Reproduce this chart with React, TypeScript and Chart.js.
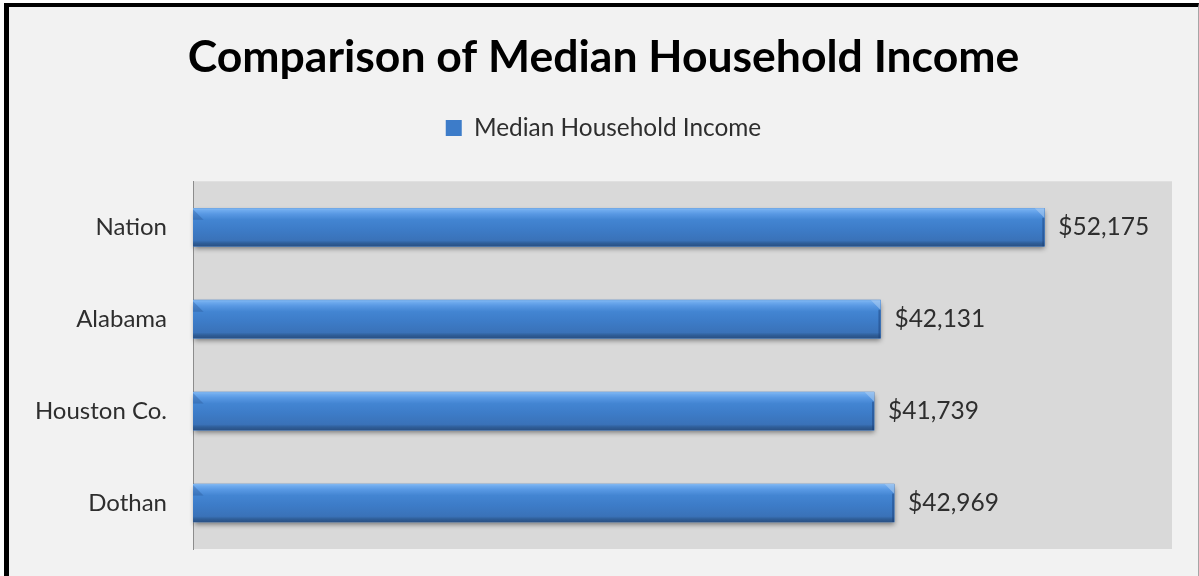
import React, { useEffect, useRef } from 'react';
import { Chart, registerables } from 'chart.js';

Chart.register(...registerables);

const categories = ['Nation', 'Alabama', 'Houston Co.', 'Dothan'];
const incomeValues = [52175, 42131, 41739, 42969];
const seriesName = 'Median Household Income';
const chartTitle = 'Comparison of Median Household Income';
const axisMin = 0;
const axisMax = 60000;

const FONT = 'Lato, "Open Sans", sans-serif';
const TEXT = '#2e2e2e';

function barRect(bar: any) {
  const p = bar.getProps(['x', 'y', 'base', 'height'], true);
  const left = Math.min(p.base, p.x);
  const right = Math.max(p.base, p.x);
  const top = p.y - p.height / 2;
  return { left, right, top, bottom: top + p.height, h: p.height, cy: p.y };
}

const plotBg = {
  id: 'plotBg',
  beforeDraw(chart: any) {
    const { ctx, chartArea: a } = chart;
    ctx.save();
    ctx.fillStyle = '#d9d9d9';
    ctx.fillRect(a.left, a.top, a.right - a.left, a.bottom - a.top);
    ctx.restore();
  },
};

const barStyle = {
  id: 'barStyle',
  beforeDatasetsDraw(chart: any) {
    const { ctx } = chart;
    chart.getDatasetMeta(0).data.forEach((bar: any) => {
      const r = barRect(bar);
      ctx.save();
      ctx.shadowColor = 'rgba(0,0,0,0.45)';
      ctx.shadowBlur = 5;
      ctx.shadowOffsetY = 3;
      ctx.shadowOffsetX = 1;
      ctx.fillStyle = '#3d7cc9';
      ctx.fillRect(r.left, r.top, r.right - r.left, r.h);
      ctx.restore();
    });
  },
  afterDatasetsDraw(chart: any) {
    const { ctx } = chart;
    const ds = chart.data.datasets[0];
    chart.getDatasetMeta(0).data.forEach((bar: any, i: number) => {
      const r = barRect(bar);
      const w = r.right - r.left;
      ctx.save();
      const g = ctx.createLinearGradient(0, r.top, 0, r.bottom);
      g.addColorStop(0, '#86bbf2');
      g.addColorStop(0.05, '#6fabee');
      g.addColorStop(0.15, '#5898e3');
      g.addColorStop(0.3, '#4385d2');
      g.addColorStop(0.55, '#3d7cc8');
      g.addColorStop(0.85, '#3a72b8');
      g.addColorStop(0.92, '#2f5e98');
      g.addColorStop(1, '#2a5185');
      ctx.fillStyle = g;
      ctx.fillRect(r.left, r.top, w, r.h);
      const b = Math.min(10, r.h / 4);
      // left bevel (darker triangle)
      ctx.fillStyle = 'rgba(25,60,115,0.25)';
      ctx.beginPath();
      ctx.moveTo(r.left, r.top + 1);
      ctx.lineTo(r.left + b + 1, r.top + b + 2);
      ctx.lineTo(r.left, r.top + b + 2);
      ctx.closePath();
      ctx.fill();
      // right face (slightly darker)
      ctx.fillStyle = 'rgba(25,60,115,0.45)';
      ctx.fillRect(r.right - 2, r.top + b, 2, r.h - b);
      // right top bevel (lighter)
      ctx.fillStyle = 'rgba(175,205,240,0.55)';
      ctx.beginPath();
      ctx.moveTo(r.right - b, r.top);
      ctx.lineTo(r.right, r.top);
      ctx.lineTo(r.right, r.top + b);
      ctx.closePath();
      ctx.fill();
      ctx.restore();

      // value label
      const v = ds.data[i] as number;
      ctx.save();
      ctx.fillStyle = TEXT;
      ctx.font = `24.5px ${FONT}`;
      ctx.textAlign = 'left';
      ctx.textBaseline = 'middle';
      ctx.fillText('$' + v.toLocaleString('en-US'), r.right + 14, r.cy);
      ctx.restore();
    });
  },
};

export default function App() {
  const ref = useRef<HTMLCanvasElement | null>(null);
  useEffect(() => {
    if (!ref.current) return;
    const chart = new Chart(ref.current, {
      type: 'bar',
      data: {
        labels: categories,
        datasets: [
          {
            label: seriesName,
            data: incomeValues,
            backgroundColor: '#3d7cc9',
            borderWidth: 0,
            barThickness: 38,
          },
        ],
      },
      options: {
        indexAxis: 'y',
        animation: false,
        responsive: true,
        maintainAspectRatio: false,
        layout: { padding: 0 },
        plugins: {
          title: {
            display: true,
            text: chartTitle,
            color: '#000000',
            font: { family: FONT, size: 44.5, weight: 'bold', lineHeight: 1.2 },
            padding: { top: 24, bottom: 21.5 },
          },
          legend: {
            display: true,
            position: 'top',
            labels: {
              color: TEXT,
              font: { family: FONT, size: 24.4 },
              boxWidth: 16,
              boxHeight: 16,
              padding: 10,
            },
          },
          tooltip: { enabled: false },
        },
        scales: {
          x: {
            position: 'top',
            min: axisMin,
            max: axisMax,
            display: true,
            grid: { display: false },
            border: { display: false },
            ticks: { display: false },
            afterFit(scale: any) {
              scale.height = 31;
              scale.paddingLeft = 0;
              scale.paddingRight = 26;
            },
          },
          y: {
            grid: { display: false, drawTicks: false },
            border: { display: true, color: '#8c8c8c', width: 1 },
            ticks: {
              color: TEXT,
              font: { family: FONT, size: 24 },
              padding: 26,
            },
            afterFit(scale: any) {
              scale.width = 184;
              scale.paddingTop = 0;
              scale.paddingBottom = 27;
            },
          },
        },
      },
      plugins: [plotBg, barStyle],
    });
    return () => chart.destroy();
  }, []);

  return (
    <div
      style={{
        position: 'absolute',
        left: 0,
        top: 0,
        width: 1199,
        height: 576,
        background: '#ffffff',
        overflow: 'hidden',
      }}
    >
      <div
        style={{
          position: 'absolute',
          left: 4,
          top: 3,
          width: 1189,
          height: 569,
          borderLeft: '5px solid #000',
          borderTop: '4px solid #000',
          borderRight: '1px solid #a6a6a6',
          background: '#f2f2f2',
        }}
      >
        <div style={{ position: 'relative', width: 1189, height: 569 }}>
          <canvas ref={ref} />
        </div>
      </div>
    </div>
  );
}
